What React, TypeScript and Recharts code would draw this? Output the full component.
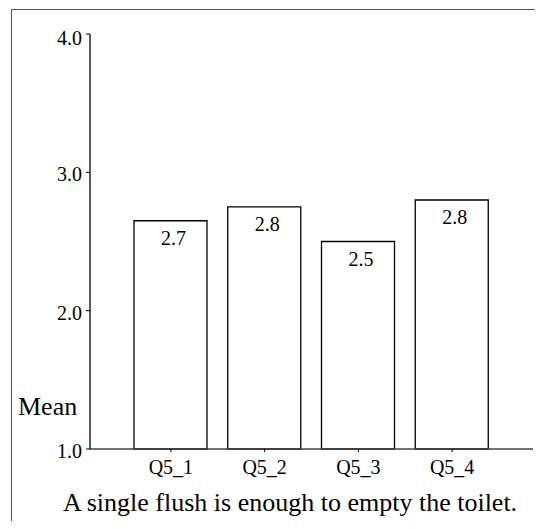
import React from "react";
import { BarChart, Bar, XAxis, YAxis, LabelList, Label } from "recharts";

const categories = ["Q5_1", "Q5_2", "Q5_3", "Q5_4"];
const means = [2.65, 2.75, 2.5, 2.8];
const meanLabels = ["2.7", "2.8", "2.5", "2.8"];
const yTicks = [1, 2, 3, 4];
const yLabel = "Mean";
const title = "A single flush is enough to empty the toilet.";

const data = categories.map((c, i) => ({ name: c, value: means[i], label: meanLabels[i] }));

const FONT = "'Liberation Serif', 'Times New Roman', serif";
const textStyle: React.CSSProperties = { fontFamily: FONT };

const YTick = (props: any) => {
  const { x, y, payload } = props;
  const dy = payload.value === 4 ? 11 : 9;
  return (
    <text x={x} y={y + dy} textAnchor="end" fontSize={20} style={textStyle} fill="#000">
      {Number(payload.value).toFixed(1)}
    </text>
  );
};

const XTick = (props: any) => {
  const { x, y, payload } = props;
  return (
    <text x={x} y={y + 20} textAnchor="middle" fontSize={20} style={textStyle} fill="#000">
      {payload.value}
    </text>
  );
};

const BarValue = (props: any) => {
  const { x, y, width, index } = props;
  return (
    <text x={x + width / 2 + 3} y={y + 24} textAnchor="middle" fontSize={20} style={textStyle} fill="#000">
      {meanLabels[index]}
    </text>
  );
};

export default function App() {
  return (
    <div style={{ position: "relative", width: 527, height: 513, overflow: "hidden", fontFamily: FONT }}>
      <div
        style={{
          position: "absolute",
          left: 3,
          top: 1,
          width: 800,
          height: 800,
          border: "1.5px solid #555",
          boxSizing: "border-box",
        }}
      />
      <div style={{ position: "absolute", left: 0, top: 0 }}>
        <BarChart width={527} height={513} data={data} margin={{ top: 26, right: 2, bottom: 32, left: 0 }} style={textStyle}>
          <XAxis
            dataKey="name"
            padding={{ left: 34, right: 34 }}
            tickSize={3}
            tickLine={{ stroke: "#000" }}
            axisLine={{ stroke: "#444", strokeWidth: 1.3 }}
            tick={<XTick />}
            height={40}
            interval={0}
          >
            <Label
              content={() => (
                <text x={282} y={503} textAnchor="middle" fontSize={26} style={textStyle} fill="#000">
                  {title}
                </text>
              )}
            />
          </XAxis>
          <YAxis
            width={82}
            domain={[1, 4]}
            ticks={yTicks}
            type="number"
            tickSize={4}
            tickMargin={4}
            tickLine={{ stroke: "#000" }}
            axisLine={{ stroke: "#000", strokeWidth: 1.3 }}
            tick={<YTick />}
          >
            <Label
              content={() => (
                <text x={10} y={407} textAnchor="start" fontSize={26} style={textStyle} fill="#000">
                  {yLabel}
                </text>
              )}
            />
          </YAxis>
          <Bar dataKey="value" fill="#fff" stroke="#000" strokeWidth={1.3} barSize={73} isAnimationActive={false}>
            <LabelList dataKey="label" content={<BarValue />} />
          </Bar>
        </BarChart>
      </div>
    </div>
  );
}
